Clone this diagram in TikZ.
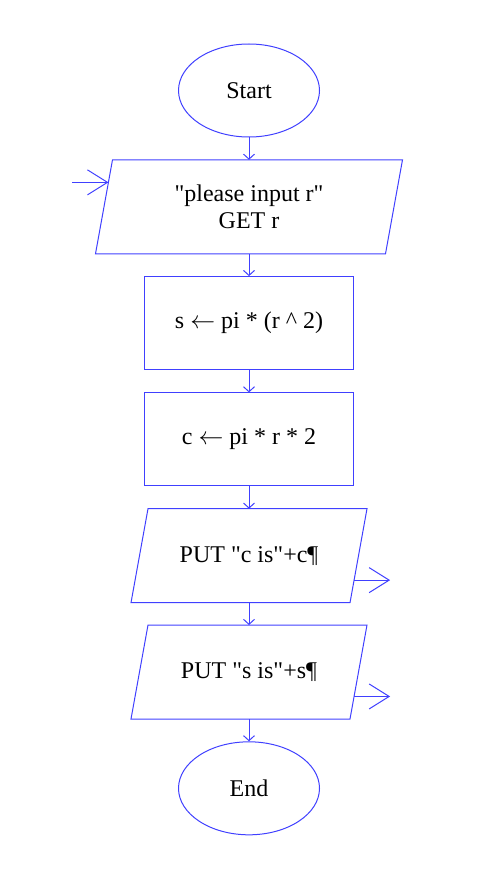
\documentclass[tikz,border=0pt]{standalone}
\usepackage{fontspec}
\setmainfont{Liberation Serif}[Ligatures=TeXOff]
\usepackage{tikz}
\usetikzlibrary{positioning, arrows.meta, calc, shapes.geometric}
\definecolor{flowblue}{RGB}{64,64,255}
\tikzset{
  termbox/.style={
    ellipse, draw=flowblue, line width=1pt,
    minimum width=141pt, minimum height=93pt, inner sep=0pt,
    font=\fontsize{24}{27}\selectfont
  },
  procbox/.style={
    rectangle, draw=flowblue, line width=1pt,
    minimum width=209pt, minimum height=93pt, inner sep=0pt,
    font=\fontsize{24}{27}\selectfont, align=center
  },
  iobox/.style={
    rectangle, line width=1pt,
    minimum width=306pt, minimum height=93pt, inner sep=0pt,
    font=\fontsize{24}{27}\selectfont, align=center
  },
  slant/.style={draw=flowblue, line width=1pt, line join=miter},
  flow/.style={-{Straight Barb[length=5pt, width=11pt]}, draw=flowblue, line width=1pt},
  ioflow/.style={-{Straight Barb[length=20pt, width=25pt]}, draw=flowblue, line width=1pt},
}

\begin{document}
\begin{tikzpicture}[node distance=22.3pt]
  \node[termbox] (start) at (249pt,-90.5pt) {Start};
  \useasboundingbox (0,0) rectangle (501pt,-877pt);

  \node[iobox, below=of start] (get) {"please input r"\\GET r};
  \node[procbox, below=of get] (area) {s $\leftarrow$ pi * (r \^{} 2)};
  \node[procbox, below=of area] (circ) {c $\leftarrow$ pi * r * 2};
  \node[iobox, below=of circ, minimum width=235pt] (putc) {PUT "c is"+c¶};
  \node[iobox, below=of putc, minimum width=235pt] (puts) {PUT "s is"+s¶};
  \node[termbox, below=of puts] (end) {End};

  % parallelogram outlines
  \foreach \io in {get, putc, puts}
    \draw[slant] ([xshift=17pt]\io.north west) -- (\io.north east)
      -- ([xshift=-17pt]\io.south east) -- (\io.south west) -- cycle;

  \draw[flow] (start) -- (get);
  \draw[flow] (get) -- (area);
  \draw[flow] (area) -- (circ);
  \draw[flow] (circ) -- (putc);
  \draw[flow] (putc) -- (puts);
  \draw[flow] (puts) -- (end);

  % side arrows for input and output
  \coordinate (getin) at ($([xshift=17pt]get.north west)!0.24!(get.south west)$);
  \coordinate (getsrc) at ([xshift=-36pt]getin);
  \draw[ioflow] (getsrc) -- (getin);
  \coordinate (cout) at ($(putc.north east)!0.76!([xshift=-17pt]putc.south east)$);
  \coordinate (cdst) at ([xshift=36pt]cout);
  \draw[ioflow] (cout) -- (cdst);
  \coordinate (sout) at ($(puts.north east)!0.76!([xshift=-17pt]puts.south east)$);
  \coordinate (sdst) at ([xshift=36pt]sout);
  \draw[ioflow] (sout) -- (sdst);
\end{tikzpicture}
\end{document}
